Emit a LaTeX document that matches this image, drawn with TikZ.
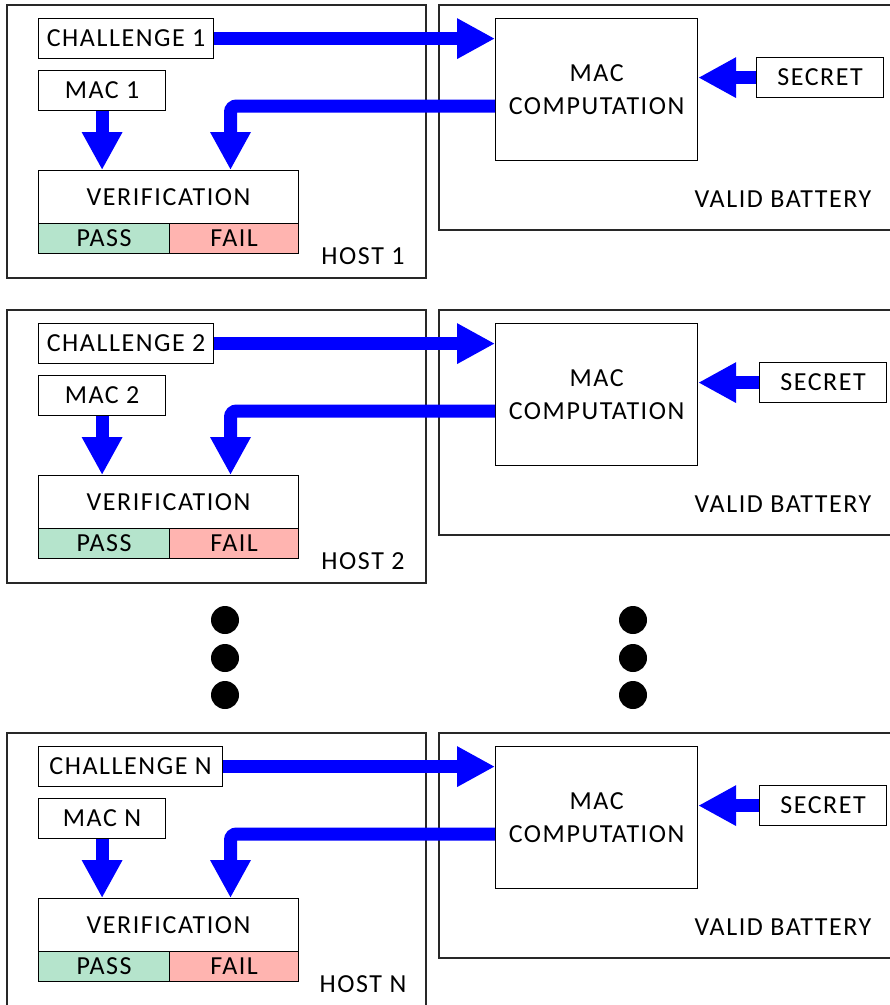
\documentclass[tikz,border=0pt]{standalone}
\usepackage{fontspec}
\setmainfont{Carlito}
\newfontfamily\diagfont[LetterSpace=6]{Carlito}
\usetikzlibrary{arrows.meta}
\definecolor{passgreen}{RGB}{181,228,204}
\definecolor{failred}{RGB}{255,180,176}
\definecolor{outergray}{RGB}{40,40,40}
\tikzset{
  box/.style={draw=black, line width=1.2pt, inner sep=0pt, anchor=north west, font=\diagfont\fontsize{26}{33}\selectfont, align=center},
  outerbox/.style={draw=outergray, line width=1.3pt},
  lbl/.style={inner sep=0pt, font=\diagfont\fontsize{26}{33}\selectfont},
  bigarrow/.style={draw=blue, line width=13pt, -{Triangle[width=38pt,length=38pt]}},
  dot/.style={circle, fill=black, minimum size=28pt, inner sep=0pt},
}
\newcommand{\hostblock}[5]{%
  % host frame
  \draw[outerbox] (7,#2+5) rectangle (426,#2+278);
  % battery frame (right side beyond picture)
  \draw[outerbox] (900,#2+5) -| (439,#2+230) -- (900,#2+230);
  \node[box, minimum width=#4pt, minimum height=40pt] (ch#1) at (38,#2+18) {CHALLENGE #3};
  \node[box, minimum width=127pt, minimum height=40pt] (mac#1) at (38,#2+70) {MAC #3};
  \node[box, minimum width=260pt, minimum height=53pt] (ver#1) at (38,#2+170) {VERIFICATION};
  \node[box, fill=passgreen, minimum width=131pt, minimum height=30pt] (pass#1) at (38,#2+223) {PASS};
  \node[box, fill=failred, minimum width=129pt, minimum height=30pt] (fail#1) at (169,#2+223) {FAIL};
  \node[lbl] (host#1) at (363,#2+256) {HOST #3};
  \node[box, minimum width=202pt, minimum height=142pt] (mc#1) at (495,#2+18) {MAC\\COMPUTATION};
  \node[box, minimum width=127pt, minimum height=40pt] (sec#1) at (#5,#2+57) {SECRET};
  \node[lbl] (bat#1) at (783,#2+199) {VALID BATTERY};
  \coordinate (r#1) at (230.5,#2+106);
  \draw[bigarrow] (ch#1.east) -- (mc#1.west |- ch#1.east);
  \draw[bigarrow, rounded corners=6pt] (mc#1.west |- r#1) -- (r#1) -- (r#1 |- ver#1.north);
  \draw[bigarrow] (mac#1.south) -- (mac#1.south |- ver#1.north);
  \draw[bigarrow] (sec#1.west) -- (mc#1.east |- sec#1.west);
}
\begin{document}
\begin{tikzpicture}[x=1pt,y=-1pt]
  \useasboundingbox (0,0) rectangle (890,1005);
  \hostblock{a}{0}{1}{175}{756}
  \hostblock{b}{305}{2}{175}{759}
  \hostblock{c}{728}{N}{184}{759}
  \node[dot] (d1) at (225,620) {};
  \node[dot] (d2) at (225,658) {};
  \node[dot] (d3) at (225,695) {};
  \node[dot] (d4) at (633,620) {};
  \node[dot] (d5) at (633,658) {};
  \node[dot] (d6) at (633,695) {};
\end{tikzpicture}
\end{document}
